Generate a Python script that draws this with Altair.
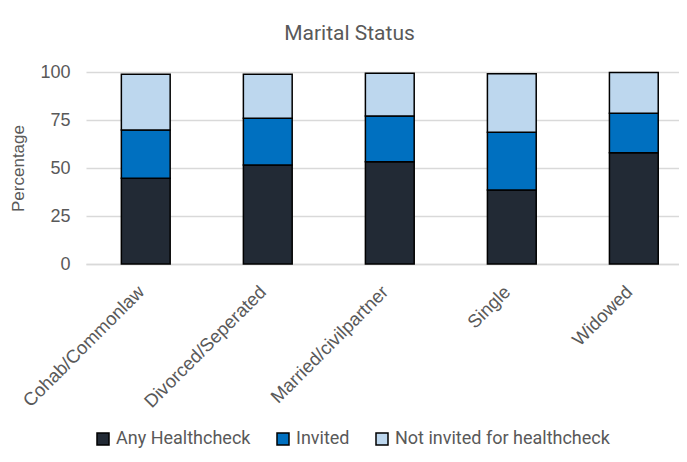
import altair as alt
import pandas as pd

categories = ["Cohab/Commonlaw", "Divorced/Seperated", "Married/civilpartner", "Single", "Widowed"]
series = ["Any Healthcheck", "Invited", "Not invited for healthcheck"]
any_healthcheck = [44.6, 51.5, 53.2, 38.5, 57.9]
invited = [25.2, 24.4, 23.9, 30.1, 20.6]
not_invited = [29.0, 22.9, 22.2, 30.5, 21.2]
colors = ["#222a35", "#0070c0", "#bdd7ee"]
y_ticks = [0, 25, 50, 75, 100]

rows = []
for i, c in enumerate(categories):
    for j, (s, vals) in enumerate(zip(series, [any_healthcheck, invited, not_invited])):
        rows.append({"Category": c, "Series": s, "Value": vals[i], "order": j})
df = pd.DataFrame(rows)

font = "Liberation Sans"
grey = "#595959"

chart = alt.Chart(df).mark_bar(stroke="black", strokeWidth=1.5).encode(
    x=alt.X("Category:N", sort=categories,
            scale=alt.Scale(paddingInner=0.6, paddingOuter=0.23, align=0.63),
            axis=alt.Axis(title=None, labelAngle=-45, labelFontSize=18.5, labelFont=font,
                          labelColor=grey, ticks=False, domain=True, domainColor="#d9d9d9",
                          domainWidth=1.5, labelPadding=18, labelOffset=-11, grid=False,
                          labelLimit=300)),
    y=alt.Y("Value:Q", stack="zero",
            scale=alt.Scale(domain=[0, 100], nice=False),
            axis=alt.Axis(title="Percentage", values=y_ticks, titleFontSize=17, titleFont=font,
                          titleColor=grey, titleFontWeight="normal", titlePadding=12,
                          labelFontSize=18, labelFont=font, labelColor=grey, ticks=False,
                          domain=False, gridColor="#d9d9d9", gridWidth=1.5, labelPadding=16)),
    color=alt.Color("Series:N", sort=series,
                    scale=alt.Scale(domain=series, range=colors),
                    legend=alt.Legend(title=None, orient="none", direction="horizontal",
                                      legendX=8, legendY=358, symbolType="square",
                                      symbolSize=144, symbolStrokeColor="black",
                                      symbolStrokeWidth=1.5, symbolOpacity=1,
                                      labelFontSize=18, labelFont="Roboto", labelColor=grey,
                                      labelOffset=4, columnPadding=23, labelLimit=400)),
    order=alt.Order("order:Q"),
).properties(
    width=593, height=192,
    title=alt.TitleParams("Marital Status", fontSize=21, font="Roboto", color=grey,
                          fontWeight="normal", offset=19, dx=-33),
    autosize=alt.AutoSizeParams(type="none"),
    padding={"left": 78, "top": 64, "right": 0, "bottom": 188},
).configure_view(stroke=None)

chart.save("out.html", embed_options={"renderer": "svg", "actions": False})
